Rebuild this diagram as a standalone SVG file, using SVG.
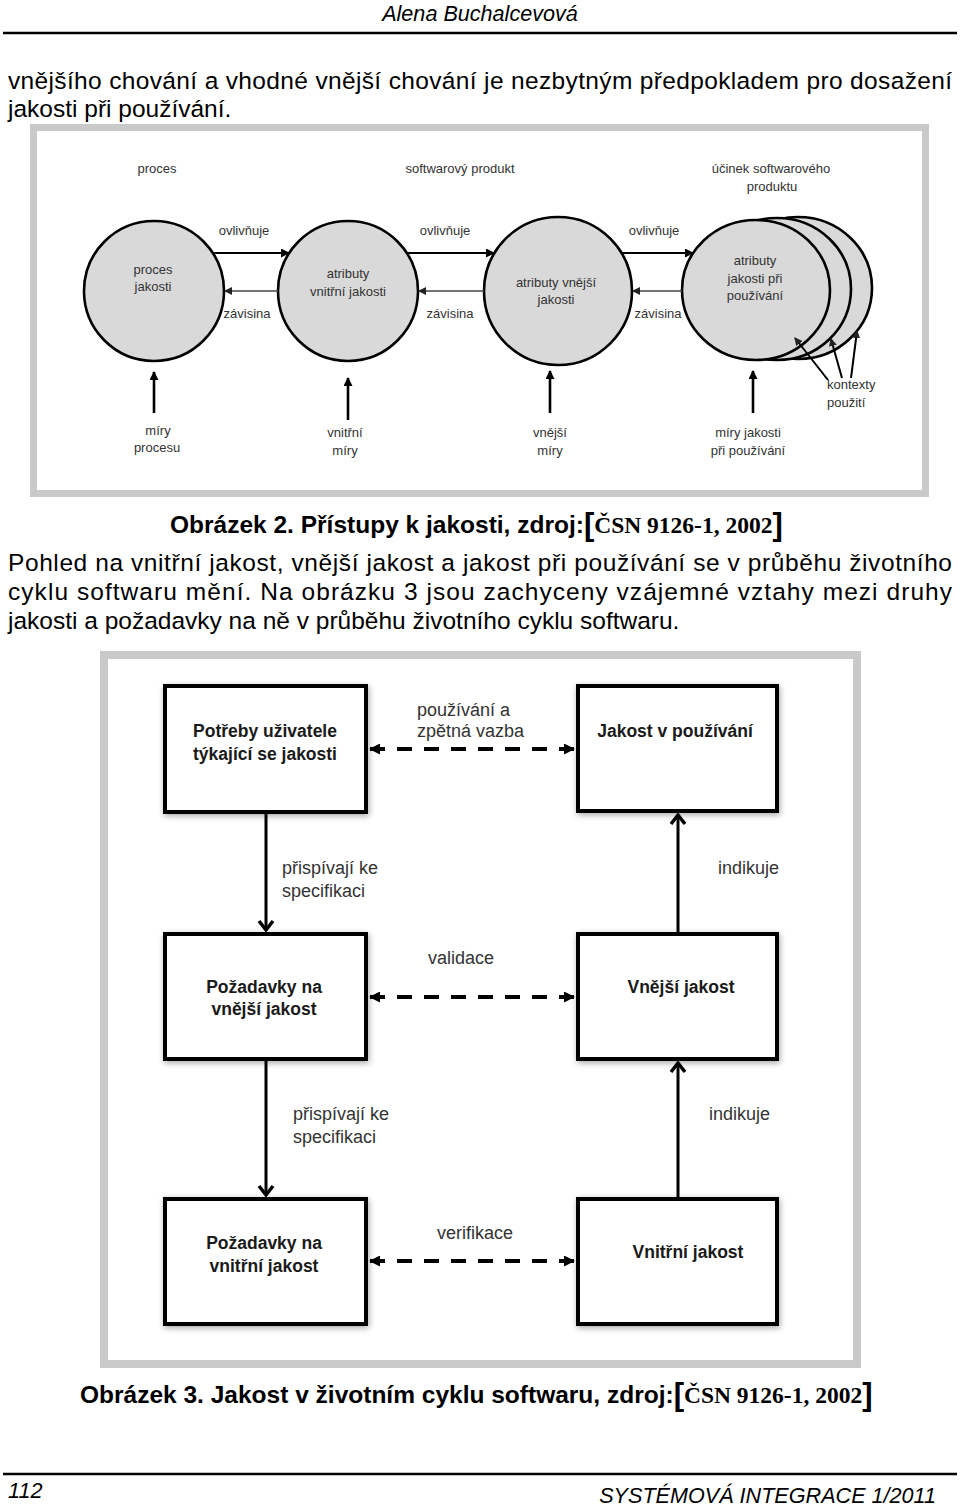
<svg xmlns="http://www.w3.org/2000/svg" width="960" height="1506" viewBox="0 0 960 1506">
<style>
.body{font-family:"Liberation Sans",Arial,sans-serif;font-size:24.5px;fill:#000}
.hdr{font-family:"Liberation Sans",Arial,sans-serif;font-size:21.6px;font-style:italic;fill:#000}
.cap{font-family:"Liberation Sans",Arial,sans-serif;font-size:24.5px;font-weight:bold;fill:#000}
.br{font-family:"Liberation Sans",Arial,sans-serif;font-size:31px;font-weight:bold}
.tm{font-family:"Liberation Serif","Times New Roman",serif;font-size:23.5px;font-weight:bold}
.f2{font-family:"Liberation Sans",Arial,sans-serif;font-size:13px;fill:#333;text-anchor:middle}
.f2s{font-family:"Liberation Sans",Arial,sans-serif;font-size:13px;fill:#333}
.f3{font-family:"Liberation Sans",Arial,sans-serif;font-size:18px;fill:#333}
.f3b{font-family:"Liberation Sans",Arial,sans-serif;font-size:17.5px;font-weight:bold;fill:#1a1a1a;text-anchor:middle}
.frame{fill:#fff;stroke:#c9c9c9}
.circ{fill:#d9d9d9;stroke:#000;stroke-width:2.6}
.box{fill:#fff;stroke:#000;stroke-width:4}
.a2{stroke:#000;stroke-width:2;fill:none}
.a2g{stroke:#444;stroke-width:1.4;fill:none}
.av{stroke:#000;stroke-width:2.6;fill:none}
.a3{stroke:#000;stroke-width:3;fill:none}
.d3{stroke:#000;stroke-width:4;fill:none;stroke-dasharray:15 12}
.rule{stroke:#000;stroke-width:2.5}
</style>
<defs>
<marker id="mh" markerUnits="userSpaceOnUse" markerWidth="9" markerHeight="9" refX="8" refY="4.5" orient="auto"><path d="M0,0 L9,4.5 L0,9 z" fill="#000"/></marker>
<marker id="mhs" markerUnits="userSpaceOnUse" markerWidth="8" markerHeight="8" refX="7" refY="4" orient="auto"><path d="M0,0 L8,4 L0,8 z" fill="#222"/></marker>
<marker id="mc" markerUnits="userSpaceOnUse" markerWidth="14" markerHeight="18" refX="11" refY="9" orient="auto"><path d="M2,2 L11,9 L2,16" fill="none" stroke="#000" stroke-width="3.5"/></marker>
<marker id="md" markerUnits="userSpaceOnUse" markerWidth="11" markerHeight="11" refX="10" refY="5.5" orient="auto-start-reverse"><path d="M0,0 L11,5.5 L0,11 z" fill="#000"/></marker>
<filter id="sh" x="-10%" y="-10%" width="125%" height="125%"><feGaussianBlur in="SourceAlpha" stdDeviation="3"/><feOffset dx="1" dy="2"/><feComponentTransfer><feFuncA type="linear" slope="0.35"/></feComponentTransfer><feMerge><feMergeNode/><feMergeNode in="SourceGraphic"/></feMerge></filter>
</defs>
<rect width="960" height="1506" fill="#fff"/>

<g id="page-header">
<text class="hdr" x="480" y="21" text-anchor="middle">Alena Buchalcevová</text>
<line class="rule" x1="3" y1="33" x2="957" y2="33"/>
</g>
<g id="intro-text">
<text class="body" x="8" y="89" textLength="944" lengthAdjust="spacing">vnějšího chování a vhodné vnější chování je nezbytným předpokladem pro dosažení</text>
<text class="body" x="8" y="117">jakosti při používání.</text>
</g>

<g id="figure2">
<rect class="frame" x="33.5" y="127.5" width="892" height="366" stroke-width="7"/>
<text class="f2" x="157" y="173">proces</text>
<text class="f2" x="460" y="173">softwarový produkt</text>
<text class="f2" x="771" y="173">účinek softwarového</text>
<text class="f2" x="772" y="191">produktu</text>

<g id="n-proces-jakosti">
<circle class="circ" cx="154" cy="291" r="70"/>
<text class="f2" x="153" y="274">proces</text>
<text class="f2" x="153" y="291">jakosti</text>
</g>
<g id="n-vnitrni">
<circle class="circ" cx="348" cy="291" r="70"/>
<text class="f2" x="348" y="278">atributy</text>
<text class="f2" x="348" y="296">vnitřní jakosti</text>
</g>
<g id="n-vnejsi">
<circle class="circ" cx="558" cy="291" r="74"/>
<text class="f2" x="556" y="287">atributy vnější</text>
<text class="f2" x="556" y="304">jakosti</text>
</g>
<g id="n-pouzivani">
<ellipse class="circ" cx="798" cy="288" rx="74" ry="71"/>
<ellipse class="circ" cx="777" cy="289" rx="74" ry="71"/>
<ellipse class="circ" cx="756" cy="290" rx="74" ry="70"/>
<text class="f2" x="755" y="265">atributy</text>
<text class="f2" x="755" y="283">jakosti při</text>
<text class="f2" x="755" y="300">používání</text>
</g>

<g id="f2-connectors">
<line class="a2" x1="213" y1="253" x2="289" y2="253" marker-end="url(#mh)"/>
<line class="a2g" x1="278" y1="291" x2="225" y2="291" marker-end="url(#mhs)"/>
<line class="a2" x1="407" y1="253" x2="494" y2="253" marker-end="url(#mh)"/>
<line class="a2g" x1="484" y1="291" x2="419" y2="291" marker-end="url(#mhs)"/>
<line class="a2" x1="622" y1="253" x2="693" y2="253" marker-end="url(#mh)"/>
<line class="a2g" x1="682" y1="291" x2="633" y2="291" marker-end="url(#mhs)"/>
<line class="av" x1="154" y1="413" x2="154" y2="372" marker-end="url(#mh)"/>
<line class="av" x1="348" y1="420" x2="348" y2="378" marker-end="url(#mh)"/>
<line class="av" x1="550" y1="413" x2="550" y2="371" marker-end="url(#mh)"/>
<line class="av" x1="753" y1="413" x2="753" y2="371" marker-end="url(#mh)"/>
<line class="a2" x1="828" y1="380" x2="795" y2="338" marker-end="url(#mhs)"/>
<line class="a2" x1="842" y1="378" x2="831" y2="339" marker-end="url(#mhs)"/>
<line class="a2" x1="851" y1="378" x2="857" y2="331" marker-end="url(#mhs)"/>
<text class="f2" x="244" y="235">ovlivňuje</text>
<text class="f2" x="445" y="235">ovlivňuje</text>
<text class="f2" x="654" y="235">ovlivňuje</text>
<text class="f2" x="247" y="318">závisina</text>
<text class="f2" x="450" y="318">závisina</text>
<text class="f2" x="658" y="318">závisina</text>
</g>
<g id="f2-measures">
<text class="f2" x="158" y="435">míry</text>
<text class="f2" x="157" y="452">procesu</text>
<text class="f2" x="345" y="437">vnitřní</text>
<text class="f2" x="345" y="455">míry</text>
<text class="f2" x="550" y="437">vnější</text>
<text class="f2" x="550" y="455">míry</text>
<text class="f2" x="748" y="437">míry jakosti</text>
<text class="f2" x="748" y="455">při používání</text>
<text class="f2s" x="827" y="389">kontexty</text>
<text class="f2s" x="827" y="407">použití</text>
</g>
</g>

<g id="caption2">
<text class="cap" x="170" y="533">Obrázek 2. Přístupy k jakosti, zdroj:<tspan class="br" dy="2">[</tspan><tspan class="tm" dy="-2">ČSN 9126-1, 2002</tspan><tspan class="br" dy="2">]</tspan></text>
</g>
<g id="para">
<text class="body" x="8" y="571" textLength="944" lengthAdjust="spacing">Pohled na vnitřní jakost, vnější jakost a jakost při používání se v průběhu životního</text>
<text class="body" x="8" y="600" textLength="944" lengthAdjust="spacing">cyklu softwaru mění. Na obrázku 3 jsou zachyceny vzájemné vztahy mezi druhy</text>
<text class="body" x="8" y="629">jakosti a požadavky na ně v průběhu životního cyklu softwaru.</text>
</g>

<g id="figure3">
<rect class="frame" x="104" y="655" width="753" height="709" stroke-width="8"/>
<g id="b-potreby">
<rect class="box" filter="url(#sh)" x="165" y="686" width="201" height="126"/>
<text class="f3b" x="265" y="737">Potřeby uživatele</text>
<text class="f3b" x="265" y="760">týkající se jakosti</text>
</g>
<g id="b-jakost-pouzivani">
<rect class="box" filter="url(#sh)" x="578" y="686" width="199" height="125"/>
<text class="f3b" x="675" y="737">Jakost v používání</text>
</g>
<g id="b-pozadavky-vnejsi">
<rect class="box" filter="url(#sh)" x="165" y="934" width="201" height="125"/>
<text class="f3b" x="264" y="993">Požadavky na</text>
<text class="f3b" x="264" y="1015">vnější jakost</text>
</g>
<g id="b-vnejsi">
<rect class="box" filter="url(#sh)" x="578" y="934" width="199" height="125"/>
<text class="f3b" x="681" y="993">Vnější jakost</text>
</g>
<g id="b-pozadavky-vnitrni">
<rect class="box" filter="url(#sh)" x="165" y="1199" width="201" height="125"/>
<text class="f3b" x="264" y="1249">Požadavky na</text>
<text class="f3b" x="264" y="1272">vnitřní jakost</text>
</g>
<g id="b-vnitrni">
<rect class="box" filter="url(#sh)" x="578" y="1199" width="199" height="125"/>
<text class="f3b" x="688" y="1258">Vnitřní jakost</text>
</g>
<g id="f3-connectors">
<line class="a3" x1="266" y1="814" x2="266" y2="930" marker-end="url(#mc)"/>
<line class="a3" x1="266" y1="1061" x2="266" y2="1195" marker-end="url(#mc)"/>
<line class="a3" x1="678" y1="932" x2="678" y2="815" marker-end="url(#mc)"/>
<line class="a3" x1="678" y1="1197" x2="678" y2="1063" marker-end="url(#mc)"/>
<line class="d3" x1="370" y1="749" x2="574" y2="749" marker-start="url(#md)" marker-end="url(#md)"/>
<line class="d3" x1="370" y1="997" x2="574" y2="997" marker-start="url(#md)" marker-end="url(#md)"/>
<line class="d3" x1="370" y1="1261" x2="574" y2="1261" marker-start="url(#md)" marker-end="url(#md)"/>
<text class="f3" x="417" y="716">používání a</text>
<text class="f3" x="417" y="737">zpětná vazba</text>
<text class="f3" x="282" y="874">přispívají ke</text>
<text class="f3" x="282" y="897">specifikaci</text>
<text class="f3" x="718" y="874">indikuje</text>
<text class="f3" x="428" y="964">validace</text>
<text class="f3" x="293" y="1120">přispívají ke</text>
<text class="f3" x="293" y="1143">specifikaci</text>
<text class="f3" x="709" y="1120">indikuje</text>
<text class="f3" x="437" y="1239">verifikace</text>
</g>
</g>

<g id="caption3">
<text class="cap" x="80" y="1403">Obrázek 3. Jakost v životním cyklu softwaru, zdroj:<tspan class="br" dy="2">[</tspan><tspan class="tm" dy="-2">ČSN 9126-1, 2002</tspan><tspan class="br" dy="2">]</tspan></text>
</g>

<g id="page-footer">
<line class="rule" x1="3" y1="1474" x2="957" y2="1474"/>
<text class="hdr" x="8" y="1498">112</text>
<text class="hdr" x="936" y="1503" text-anchor="end">SYSTÉMOVÁ INTEGRACE 1/2011</text>
</g>
</svg>
